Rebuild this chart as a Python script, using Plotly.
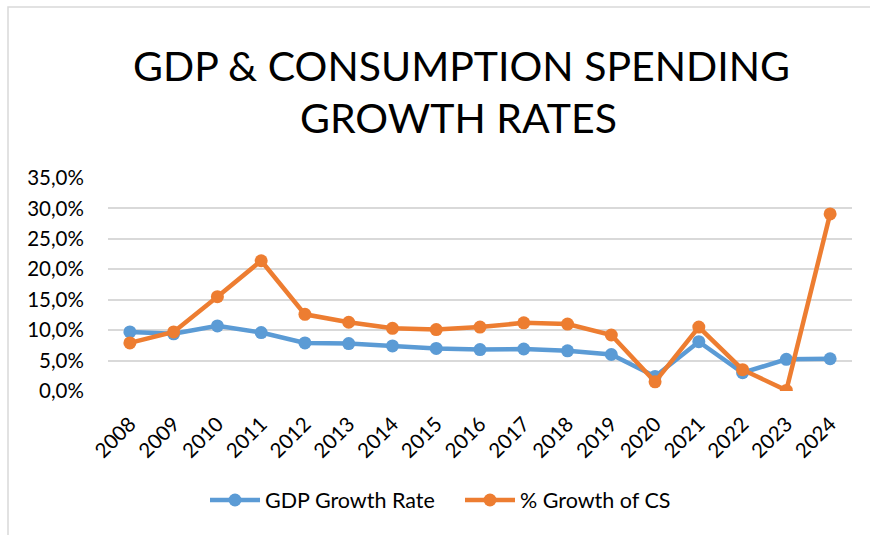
import plotly.graph_objects as go

years = [str(y) for y in range(2008, 2025)]
gdp_growth = [9.7, 9.4, 10.7, 9.6, 7.9, 7.8, 7.4, 7.0, 6.8, 6.9, 6.6, 6.0, 2.4, 8.1, 3.0, 5.2, 5.3]
cs_growth = [7.9, 9.7, 15.5, 21.4, 12.6, 11.3, 10.3, 10.1, 10.5, 11.2, 11.0, 9.2, 1.5, 10.5, 3.5, 0.1, 29.1]
y_ticks = [0, 5, 10, 15, 20, 25, 30, 35]
y_tick_text = [f"{v:.1f}".replace(".", ",") + "%" for v in y_ticks]

BLUE = "#5B9BD5"
ORANGE = "#ED7D31"
GRID = "#D9D9D9"
FONT = "Lato"

W, H = 870, 535
L, R, T, B = 108, 18, 178, 144
pw, ph = W - L - R, H - T - B


def px_x(px):
    return (px - L) / pw


def px_y(py):
    return (H - B - py) / ph


fig = go.Figure()
fig.add_trace(go.Scatter(
    x=years, y=gdp_growth, name="GDP Growth Rate", mode="lines+markers",
    line=dict(color=BLUE, width=4.5), marker=dict(color=BLUE, size=13),
))
fig.add_trace(go.Scatter(
    x=years, y=cs_growth, name="% Growth of CS", mode="lines+markers",
    line=dict(color=ORANGE, width=4.5), marker=dict(color=ORANGE, size=13),
))

fig.update_layout(
    width=W, height=H,
    margin=dict(l=L, r=R, t=T, b=B),
    paper_bgcolor="white", plot_bgcolor="white",
    font=dict(family=FONT, size=19, color="#000000"),
    showlegend=True,
    legend=dict(
        orientation="h", x=px_x(460), y=px_y(500), xanchor="center", yanchor="middle",
        font=dict(family=FONT, size=21.5, color="#000000"),
        itemwidth=50, entrywidth=190,
    ),
    xaxis=dict(
        type="category", range=[-0.5, len(years) - 0.5], tickangle=-45,
        showgrid=False, showline=False, zeroline=False,
        ticks="outside", ticklen=12, tickcolor="rgba(0,0,0,0)",
        tickfont=dict(family=FONT, size=20.5),
    ),
    yaxis=dict(
        range=[0, 35], tickvals=y_ticks, ticktext=y_tick_text,
        showgrid=True, gridcolor=GRID, gridwidth=1.5, zeroline=False, showline=False,
        ticks="outside", ticklen=19, tickcolor="rgba(0,0,0,0)",
        tickfont=dict(family=FONT, size=20.5),
    ),
    shapes=[dict(
        type="rect", xref="paper", yref="paper",
        x0=px_x(8), x1=px_x(875), y0=px_y(540), y1=px_y(7),
        line=dict(color=GRID, width=1.5), fillcolor="rgba(0,0,0,0)", layer="below",
    )],
    annotations=[
        dict(text="GDP & CONSUMPTION SPENDING", xref="paper", yref="paper",
             x=px_x(461), y=px_y(66), xanchor="center", yanchor="middle", showarrow=False,
             font=dict(family=FONT, size=41, color="#000000")),
        dict(text="GROWTH RATES", xref="paper", yref="paper",
             x=px_x(458), y=px_y(118), xanchor="center", yanchor="middle", showarrow=False,
             font=dict(family=FONT, size=41, color="#000000")),
    ],
)

fig.write_html("out.html")
